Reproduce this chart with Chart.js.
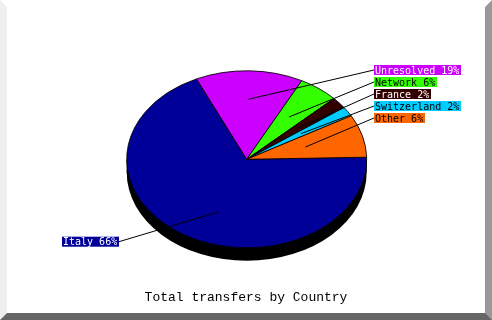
<!DOCTYPE html>
<html>
<head>
<meta charset="utf-8">
<script src="https://cdn.jsdelivr.net/npm/chart.js@4.4.1/dist/chart.umd.min.js"></script>
<style>
  html, body { margin: 0; padding: 0; background: #fff; }
  .frame {
    width: 492px; height: 320px; box-sizing: border-box;
    border-style: solid; border-width: 7px;
    border-color: #ffffff #999999 #666666 #efefef;
    background: #fff;
  }
  canvas { display: block; }
</style>
</head>
<body>
<div class="frame"><canvas id="pieChart" width="478" height="306"></canvas></div>
<script>
const categories = ['Italy', 'Unresolved', 'Network', 'France', 'Switzerland', 'Other'];
const shares = [66.4, 18.6, 5.6, 1.9, 1.5, 6.0];
const sliceColors = ['#000099', '#cc00ff', '#33ff00', '#330000', '#00ccff', '#ff6600'];
const labelTextColors = ['#ffffff', '#ffffff', '#000000', '#ffffff', '#000000', '#000000'];
const chartTitle = 'Total transfers by Country';

// geometry of the tilted pie (canvas coords)
const CX = 239.7, CY = 152.3, RX = 120, RY = 88.5, DEPTH = 13;
const K = RY / RX;

// screen angle on the ellipse -> angle before the vertical squash
function squash(a) {
    const t = Math.atan2(Math.sin(a), K * Math.cos(a));
    let d = t - a;
    d = Math.atan2(Math.sin(d), Math.cos(d));
    return a + d;
}

const total = shares.reduce((s, v) => s + v, 0);

const pie3d = {
    id: 'pie3d',
    afterDatasetUpdate(chart, args) {
        args.meta.data.forEach(arc => {
            arc.$mid = (arc.startAngle + arc.endAngle) / 2;
            const s = squash(arc.startAngle);
            const e = squash(arc.endAngle);
            arc.startAngle = s;
            arc.endAngle = e;
            arc.circumference = e - s;
        });
    },
    beforeDatasetsDraw(chart) {
        const ctx = chart.ctx;
        const arc0 = chart.getDatasetMeta(0).data[0];
        ctx.save();
        ctx.fillStyle = '#000';
        ctx.beginPath();
        ctx.ellipse(CX, CY + DEPTH, RX, RY, 0, 0, Math.PI * 2);
        ctx.fill();
        ctx.fillRect(CX - RX, CY, RX * 2, DEPTH);
        ctx.translate(CX, CY);
        ctx.scale(1, K);
        ctx.translate(-arc0.x, -arc0.y);
    },
    afterDatasetsDraw(chart) {
        const ctx = chart.ctx;
        ctx.restore();

        const arcs = chart.getDatasetMeta(0).data;
        const right = [], left = [];
        arcs.forEach((arc, i) => (Math.cos(arc.$mid) >= 0 ? right : left).push(i));
        right.sort((a, b) => Math.sin(arcs[a].$mid) - Math.sin(arcs[b].$mid));
        left.sort((a, b) => Math.sin(arcs[a].$mid) - Math.sin(arcs[b].$mid));

        ctx.save();
        ctx.font = '10px "DejaVu Sans Mono"';
        ctx.textBaseline = 'alphabetic';
        ctx.lineWidth = 1;
        ctx.strokeStyle = '#000';

        const drawLabel = (i, slot, side) => {
            const arc = arcs[i];
            const text = categories[i] + ' ' + Math.round(shares[i] / total * 100) + '%';
            const w = Math.ceil(ctx.measureText(text).width) + 2;
            const cy = side === 'right' ? 63 + slot * 12 : 234.7 + slot * 12;
            const bx = side === 'right' ? 367 : 112 - w;
            const sx = CX + 60 * Math.cos(arc.$mid);
            const sy = CY + 60 * Math.sin(arc.$mid);
            ctx.beginPath();
            ctx.moveTo(sx, sy);
            ctx.lineTo(side === 'right' ? bx : bx + w, cy);
            ctx.stroke();
            ctx.fillStyle = sliceColors[i];
            ctx.fillRect(bx, cy - 5, w, 10);
            ctx.fillStyle = labelTextColors[i];
            ctx.fillText(text, bx + 1, cy + 3.5);
        };
        right.forEach((i, n) => drawLabel(i, n, 'right'));
        left.forEach((i, n) => drawLabel(i, n, 'left'));
        ctx.restore();
    }
};

new Chart(document.getElementById('pieChart'), {
    type: 'pie',
    data: {
        labels: categories,
        datasets: [{
            data: shares,
            backgroundColor: sliceColors,
            borderColor: '#000000',
            borderWidth: 1
        }]
    },
    options: {
        responsive: false,
        animation: false,
        rotation: 89,
        radius: RX,
        events: [],
        layout: { padding: 0 },
        plugins: {
            legend: { display: false },
            tooltip: { enabled: false },
            title: {
                display: true,
                text: chartTitle,
                position: 'bottom',
                color: '#000',
                font: { family: '"Liberation Mono"', size: 13, weight: 'normal' },
                padding: { top: 0, bottom: 8 }
            }
        }
    },
    plugins: [pie3d]
});
</script>
</body>
</html>
